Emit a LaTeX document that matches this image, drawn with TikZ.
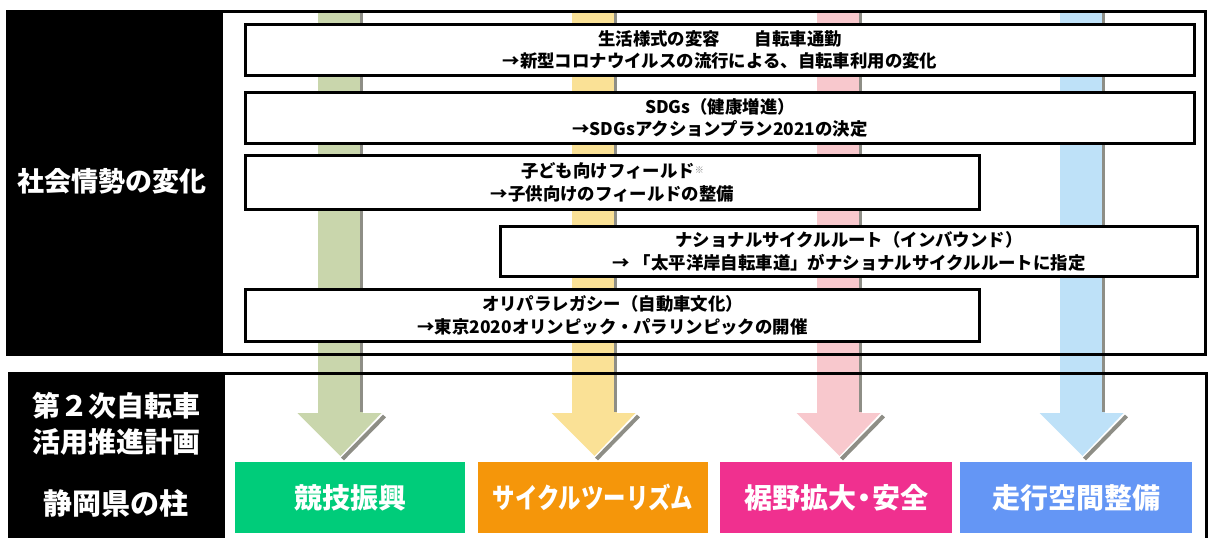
\documentclass[tikz,border=0pt]{standalone}
\usepackage{fontspec}
\usepackage{graphicx}
\setmainfont{Noto Sans CJK JP}
\definecolor{arG}{HTML}{C9D6AC}
\definecolor{arY}{HTML}{FAE196}
\definecolor{arP}{HTML}{F8C8CD}
\definecolor{arB}{HTML}{BEE1F8}
\definecolor{shd}{HTML}{8E8E86}
\definecolor{bxG}{HTML}{00CC7A}
\definecolor{bxY}{HTML}{F5960A}
\definecolor{bxP}{HTML}{F0308F}
\definecolor{bxB}{HTML}{6496F5}
\tikzset{
  evbox/.style={draw=black, line width=3pt, fill=white, inner sep=0pt, align=center,
    font=\fontsize{17.4}{22.5}\selectfont\bfseries},
  pillar/.style={inner sep=0pt, minimum width=230pt, minimum height=71pt, text=white,
    font=\fontsize{28}{32}\selectfont\bfseries},
  sidelabel/.style={text=white, align=center, inner sep=0pt,
    font=\fontsize{28}{36}\selectfont\bfseries},
  panel/.style={draw=black, line width=3pt}
}
\begin{document}
\begin{tikzpicture}[x=1pt,y=-1pt]
\useasboundingbox (0,0) rectangle (1208,538);
\fill[white] (0,0) rectangle (1208,538);
% panel fills
\fill[black] (7,11.5) rectangle (223,354.5);
\fill[black] (8,373.5) rectangle (225,540);
% columns
\foreach \c/\col in {340.5/arG, 594.5/arY, 839.5/arP, 1082.5/arB}{
  \fill[\col] (\c-22.5,13) rectangle (\c+22.5,413);
  \fill[\col] (\c-43,413) -- (\c+41,413) -- (\c,456) -- cycle;
  \draw[shd, line width=3pt] (\c+21,13) -- (\c+21,412);
  \draw[shd, line width=4pt] (\c+44,416) -- (\c+2,459);
}
% panel borders
\draw[panel] (7,11.5) rectangle (1205.5,354.5);
\draw[panel] (8,373.5) -- (1206.5,373.5) -- (1206.5,545);
% event boxes
\node[evbox, minimum width=949pt, minimum height=50.5pt] (e1) at (720,50)
  {生活様式の変容　　自転車通勤\\→新型コロナウイルスの流行による、自転車利用の変化};
\node[evbox, minimum width=949pt, minimum height=51pt] (e2) at (720,118)
  {SDGs（健康増進）\\→SDGsアクションプラン2021の決定};
\node[evbox, minimum width=734pt, minimum height=54pt] (e3) at (612.5,182.5)
  {子ども向けフィールド{\color{gray}\fontsize{9}{10}\selectfont\raisebox{4pt}{※}}\\→子供向けのフィールドの整備};
\node[evbox, minimum width=697pt, minimum height=50pt] (e4) at (849,251.5)
  {ナショナルサイクルルート（インバウンド）\\→ 「太平洋岸自転車道」がナショナルサイクルルートに指定};
\node[evbox, minimum width=734pt, minimum height=52pt] (e5) at (612.5,315.5)
  {オリパラレガシー（自動車文化）\\→東京2020オリンピック・パラリンピックの開催};
% side labels
\node[sidelabel] (s1) at (112,181) {\fontsize{27}{34}\selectfont 社会情勢の変化};
\node[sidelabel] (s2) at (116,424) {第２次自転車\\活用推進計画};
\node[sidelabel] (s3) at (116,503) {\fontsize{29}{34}\selectfont 静岡県の柱};
% pillars
\node[pillar, fill=bxG] (p1) at (350,497.5) {競技振興};
\node[pillar, fill=bxY] (p2) at (593,497.5) {\scalebox{0.8}[1]{サイクルツーリズム}};
\node[pillar, fill=bxP, minimum width=232pt] (p3) at (836,497.5) {裾野拡大\kern-6pt・\kern-6pt 安全};
\node[pillar, fill=bxB, minimum width=232pt] (p4) at (1076,497.5) {走行空間整備};
\end{tikzpicture}
\end{document}
